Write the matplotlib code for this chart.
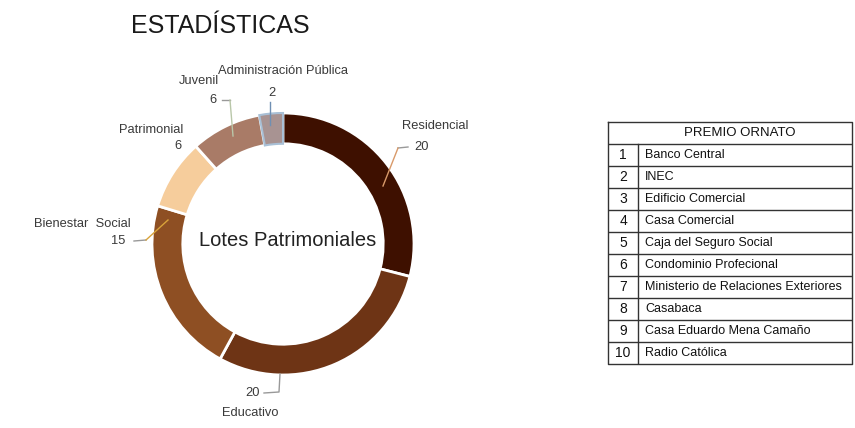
import matplotlib.pyplot as plt
import numpy as np

categorias = ['Residencial', 'Educativo', 'Bienestar  Social', 'Patrimonial', 'Juvenil', 'Administración Pública']
lotes = [20, 20, 15, 6, 6, 2]
colores = ['#3e1000', '#6e3415', '#8e4f23', '#f6cd9c', '#a97b67', '#a89392']

premio_num = [str(i) for i in range(1, 11)]
premio_nombre = ['Banco Central', 'INEC', 'Edificio Comercial', 'Casa Comercial',
                 'Caja del Seguro Social', 'Condominio Profecional',
                 'Ministerio de Relaciones Exteriores', 'Casabaca',
                 'Casa Eduardo Mena Camaño', 'Radio Católica']

plt.rcParams['font.family'] = ['Liberation Sans', 'DejaVu Sans']

W, H = 855, 428
fig = plt.figure(figsize=(W / 100, H / 100), dpi=100)

# donut axes: 1 data unit = R pixels
cx, cy, R = 283, 244, 131
ax = fig.add_axes([0, 0, 600 / W, 1])

def px(x, y):
    return ((x - cx) / R, (cy - y) / R)

wedges, _ = ax.pie(lotes, colors=colores, startangle=90, counterclock=False,
                   radius=1, wedgeprops=dict(width=0.235, edgecolor='white', linewidth=2))
wedges[5].set_edgecolor('#a9c0d6')
wedges[5].set_linewidth(1.5)
ax.set_aspect('auto')
ax.set_xlim(-cx / R, (600 - cx) / R)
ax.set_ylim(-(H - cy) / R, cy / R)
ax.axis('off')

ax.text(*px(288, 241), 'Lotes Patrimoniales', ha='center', va='center',
        fontsize=14.5, color='#222222')

fig.text(131 / W, 1 - 26 / H, 'ESTADÍSTICAS', ha='left', va='center',
         fontsize=18, color='#1a1a1a')

lab = dict(fontsize=9.3, color='#3a3a3a')
gris = '#999999'

# etiquetas y líneas guía
def leader(pts, col):
    xs, ys = zip(*[px(x, y) for x, y in pts])
    ax.plot(xs, ys, color=col, lw=1)

# Residencial
ax.text(*px(402, 126), categorias[0], ha='left', va='center', **lab)
ax.text(*px(414, 147), str(lotes[0]), ha='left', va='center', **lab)
leader([(408, 147), (398, 148)], gris)
leader([(398, 148), (383, 186)], '#d99a6a')
# Educativo
ax.text(*px(253, 393), str(lotes[1]), ha='center', va='center', **lab)
ax.text(*px(250, 413), categorias[1], ha='center', va='center', **lab)
leader([(264, 393), (279, 392), (280, 374)], gris)
# Bienestar Social
ax.text(*px(131, 224), categorias[2], ha='right', va='center', **lab)
ax.text(*px(125, 241), str(lotes[2]), ha='right', va='center', **lab)
leader([(134, 241), (146, 240)], gris)
leader([(146, 240), (168, 220)], '#d9a33a')
# Patrimonial
ax.text(*px(183, 130), categorias[3], ha='right', va='center', **lab)
ax.text(*px(181, 146), str(lotes[3]), ha='right', va='center', **lab)
# Juvenil
ax.text(*px(219, 81), categorias[4], ha='right', va='center', **lab)
ax.text(*px(216, 100), str(lotes[4]), ha='right', va='center', **lab)
leader([(222, 100), (230, 100)], gris)
leader([(230, 100), (233, 136)], '#b9c7a9')
# Administración Pública
ax.text(*px(283, 71), categorias[5], ha='center', va='center', **lab)
ax.text(*px(272, 93), str(lotes[5]), ha='center', va='center', **lab)
leader([(270, 102), (270, 125)], '#6f8fb3')

# tabla PREMIO ORNATO
tx0, ty0, tw, th = 608, 122, 244, 242
tax = fig.add_axes([tx0 / W, 1 - (ty0 + th) / H, tw / W, th / H])
n = len(premio_nombre)
hdr = 1.0
tax.set_xlim(0, 1)
tax.set_ylim(n + hdr, 0)
tax.axis('off')
lc = '#333333'
colx = 30 / tw
tax.plot([0, 1, 1, 0, 0], [0, 0, n + hdr, n + hdr, 0], color=lc, lw=1, clip_on=False)
for i in range(n):
    tax.plot([0, 1], [hdr + i, hdr + i], color=lc, lw=1)
tax.plot([colx, colx], [hdr, n + hdr], color=lc, lw=1)
tax.text(0.54, hdr / 2, 'PREMIO ORNATO', ha='center', va='center', fontsize=9.5, color='#111111')
for i, (num, nom) in enumerate(zip(premio_num, premio_nombre)):
    y = hdr + i + 0.5
    tax.text(colx / 2, y, num, ha='center', va='center', fontsize=10, color='#111111')
    tax.text(colx + 0.03, y, nom, ha='left', va='center', fontsize=9, color='#111111')

fig.savefig('out.png', dpi=100)
